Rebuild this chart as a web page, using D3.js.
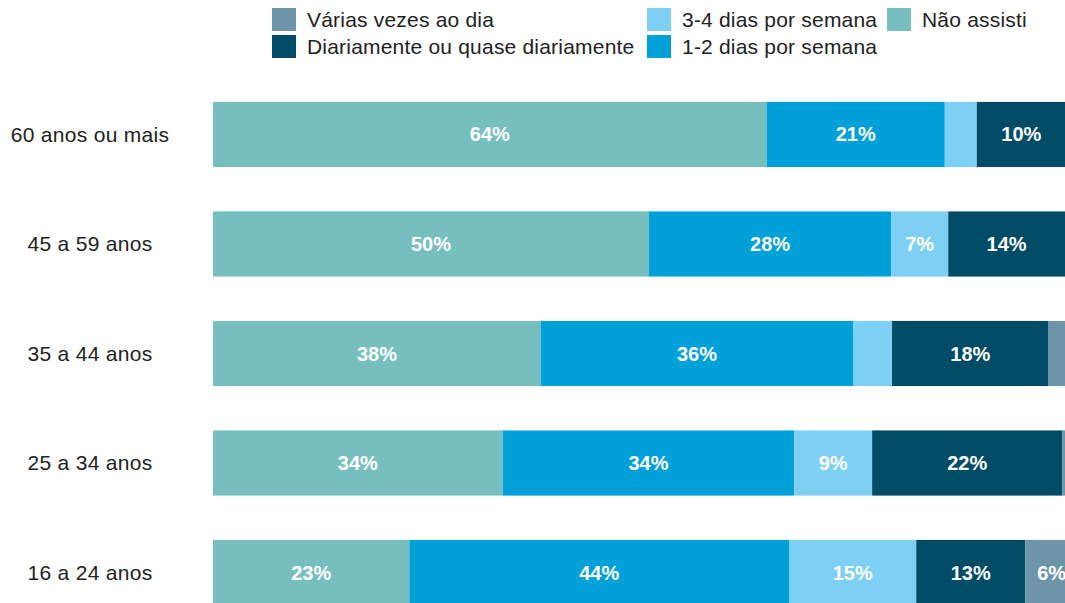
<!DOCTYPE html>
<html>
<head>
<meta charset="utf-8">
<script src="https://cdn.jsdelivr.net/npm/d3@7"></script>
<style>
  body { margin: 0; background: #fff; overflow: hidden; }
  svg { display: block; font-family: "Liberation Sans", Arial, sans-serif; }
</style>
</head>
<body>
<div id="chart"></div>
<script>
// age groups, top to bottom
const groups = ['60 anos ou mais', '45 a 59 anos', '35 a 44 anos', '25 a 34 anos', '16 a 24 anos'];

// series in stacking order (left to right)
const seriesNames = ['Não assisti', '1-2 dias por semana', '3-4 dias por semana', 'Diariamente ou quase diariamente', 'Várias vezes ao dia'];
const naoAssisti   = [64, 50.4, 37.9, 33.5, 22.7];
const umDois       = [20.6, 28, 36.1, 33.7, 43.9];
const tresQuatro   = [3.7, 6.6, 4.5, 9, 14.7];
const diariamente  = [10.3, 13.5, 18.1, 22, 12.6];
const variasVezes  = [1.4, 1.5, 3.4, 1.8, 6.1];

const colors = ['#77bfbf', '#00a0d9', '#7dd0f3', '#004b66', '#6e95a7'];

// legend layout order (column by column)
const legendItems = [
  { name: 'Várias vezes ao dia', color: colors[4], col: 0, row: 0 },
  { name: 'Diariamente ou quase diariamente', color: colors[3], col: 0, row: 1 },
  { name: '3-4 dias por semana', color: colors[2], col: 1, row: 0 },
  { name: '1-2 dias por semana', color: colors[1], col: 1, row: 1 },
  { name: 'Não assisti', color: colors[0], col: 2, row: 0 }
];

const width = 1065, height = 603;
const svg = d3.select('#chart').append('svg')
  .attr('width', width)
  .attr('height', height);

const table = groups.map((g, i) => ({
  group: g,
  'Não assisti': naoAssisti[i],
  '1-2 dias por semana': umDois[i],
  '3-4 dias por semana': tresQuatro[i],
  'Diariamente ou quase diariamente': diariamente[i],
  'Várias vezes ao dia': variasVezes[i]
}));

const stacked = d3.stack().keys(seriesNames)(table);

const x = d3.scaleLinear().domain([0, 100]).range([213, 1078]);
const y = d3.scaleBand().domain(groups).range([80, 627]).paddingInner(0.405).paddingOuter(0.2);

const layer = svg.selectAll('g.layer')
  .data(stacked)
  .enter().append('g')
  .attr('class', 'layer')
  .attr('fill', (d, i) => colors[i]);

layer.selectAll('rect')
  .data(d => d)
  .enter().append('rect')
  .attr('x', d => x(d[0]))
  .attr('y', d => y(d.data.group))
  .attr('width', d => x(d[1]) - x(d[0]))
  .attr('height', y.bandwidth());

// value labels (only on wide enough segments)
layer.selectAll('text')
  .data(d => d.filter(s => s[1] - s[0] >= 5))
  .enter().append('text')
  .attr('x', d => (x(d[0]) + x(d[1])) / 2)
  .attr('y', d => y(d.data.group) + y.bandwidth() / 2)
  .attr('dy', '0.35em')
  .attr('text-anchor', 'middle')
  .attr('fill', '#fff')
  .attr('font-size', 20)
  .attr('font-weight', 'bold')
  .text(d => Math.round(d[1] - d[0]) + '%');

// category labels
svg.selectAll('text.cat')
  .data(groups)
  .enter().append('text')
  .attr('class', 'cat')
  .attr('x', 90)
  .attr('y', d => y(d) + y.bandwidth() / 2)
  .attr('dy', '0.35em')
  .attr('text-anchor', 'middle')
  .attr('fill', '#222')
  .attr('font-size', 21)
  .attr('letter-spacing', 0.3)
  .text(d => d);

// legend
const colX = [272, 647, 887];
const rowY = [8, 35];
const leg = svg.selectAll('g.leg')
  .data(legendItems)
  .enter().append('g')
  .attr('class', 'leg')
  .attr('transform', d => `translate(${colX[d.col]},${rowY[d.row]})`);

leg.append('rect')
  .attr('width', 24)
  .attr('height', 23)
  .attr('fill', d => d.color);

leg.append('text')
  .attr('x', 35)
  .attr('y', 12)
  .attr('dy', '0.35em')
  .attr('fill', '#222')
  .attr('font-size', 21)
  .attr('letter-spacing', 0.2)
  .text(d => d.name);
</script>
</body>
</html>
